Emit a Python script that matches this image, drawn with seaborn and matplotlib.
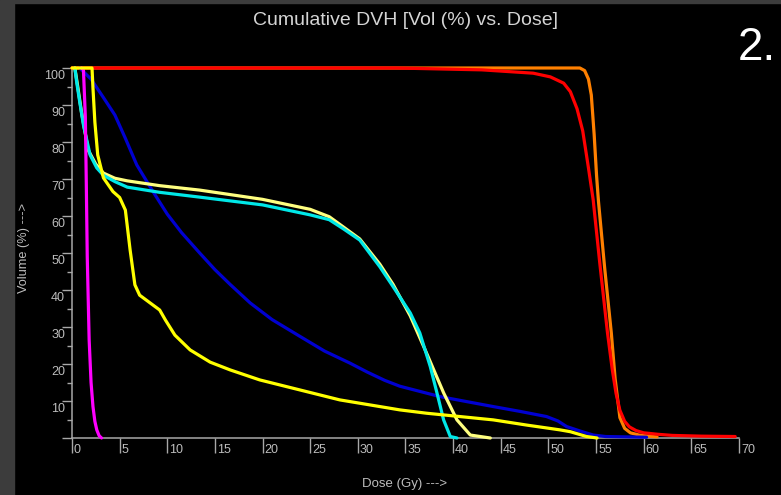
import pandas as pd
import seaborn as sns
import matplotlib.pyplot as plt
from matplotlib.patches import Rectangle

# DVH curves (dose in Gy, volume in %)
orange_dose = [0, 53.3, 53.8, 54.2, 54.5, 54.8, 55.05, 55.25, 55.9, 56.6, 57.0, 57.5, 58.0, 58.6, 59.5, 60.5, 61.4]
orange_vol = [100, 100, 99.3, 97, 92.7, 82, 71, 64, 46, 28.4, 16, 5.5, 2.6, 1.4, 0.8, 0.5, 0.3]

red_dose = [0, 34, 43, 48.4, 50.2, 51.6, 52.3, 53.0, 53.6, 54.2, 54.7, 55.4, 56.2, 56.7, 57.1, 57.5,
            58.0, 58.5, 59.2, 60.0, 61.5, 63, 66, 69.6]
red_vol = [100, 100, 99.5, 98.6, 97.6, 95.9, 93.6, 89, 83, 73, 64.3, 47, 28.4, 18.5, 12, 7.5,
           4.5, 3.0, 2.0, 1.4, 1.0, 0.7, 0.5, 0.4]

blue_dose = [0.8, 2.0, 3.3, 4.5, 5.6, 6.8, 8.5, 10.0, 11.5, 13.4, 15.0, 16.6, 18.7, 21, 23.9, 26.5,
             29.2, 31.0, 32.8, 34.4, 36.5, 38.6, 41.5, 44.2, 47, 49.8, 51, 51.9, 53.3, 54.7, 56, 60.3]
blue_vol = [100, 97, 92, 87.3, 81, 73.8, 66.6, 60.5, 55.5, 50, 45.5, 41.5, 36.5, 32, 27.5, 23.5,
            20.2, 17.8, 15.6, 14.0, 12.6, 11.2, 9.8, 8.5, 7.2, 5.8, 4.6, 3.1, 1.9, 0.8, 0.4, 0.2]

pale_dose = [0.3, 0.6, 1.0, 1.7, 2.5, 3.3, 4.5, 5.8, 9.2, 13.4, 20, 25, 27, 28.5, 30.2, 32.3,
             33.7, 35.5, 37.2, 39.0, 40.4, 41.8, 43.9]
pale_vol = [100, 95, 88, 77.8, 74, 71.6, 70.2, 69.5, 68.2, 67, 64.5, 61.8, 59.8, 57, 53.8, 47,
            41.5, 33, 23, 12.2, 4.9, 0.8, 0]

cyan_dose = [0.3, 0.5, 0.8, 1.2, 1.9, 2.6, 3.3, 4.5, 5.8, 9.2, 13.4, 20, 25, 27, 28.5, 30.2,
             32.3, 33.7, 35.5, 36.5, 37.6, 38.3, 39.0, 39.7, 40.4]
cyan_vol = [100, 96, 91, 84.6, 76.5, 73, 71, 69.3, 67.8, 66.4, 65.1, 63, 60.3, 59, 56.5, 53.5,
            46.3, 40.9, 33.8, 28.4, 19.3, 12.2, 4.9, 0.4, 0]

magenta_dose = [1.0, 1.2, 1.4, 1.5, 1.6, 1.8, 2.0, 2.2, 2.4, 2.6, 2.85, 3.1]
magenta_vol = [100, 99.5, 86.8, 68.9, 49, 26.5, 15, 8.5, 4.5, 2.2, 0.6, 0]

yellow_dose = [0, 2.1, 2.2, 2.4, 2.7, 3.3, 4.3, 5.0, 5.6, 6.1, 6.6, 7.1, 8.2, 9.2, 9.8, 10.8,
               12.4, 14.5, 16.6, 19.7, 23.9, 28.1, 30.2, 34.4, 37.2, 44.2, 47.7, 51.2, 52.3, 54.0, 55.1]
yellow_vol = [100, 100, 94.6, 85.4, 76.5, 70.3, 66.6, 65, 61.6, 50.8, 41.4, 38.6, 36.5, 34.6, 31.9, 27.8,
              23.8, 20.5, 18.4, 15.7, 13, 10.3, 9.4, 7.6, 6.7, 4.9, 3.5, 2.2, 1.7, 0.4, 0]

x_ticks = list(range(0, 75, 5))
x_tick_labels = [str(v) for v in x_ticks]
y_ticks = list(range(10, 110, 10))
y_tick_labels = [str(v) for v in y_ticks]

curves = {
    'Orange': (orange_dose, orange_vol, '#ff8000'),
    'Red': (red_dose, red_vol, '#ff0000'),
    'Blue': (blue_dose, blue_vol, '#0000d0'),
    'PaleYellow': (pale_dose, pale_vol, '#ffff80'),
    'Cyan': (cyan_dose, cyan_vol, '#00e8e8'),
    'Magenta': (magenta_dose, magenta_vol, '#ff00ff'),
    'Yellow': (yellow_dose, yellow_vol, '#ffff00'),
}

rows = []
for name, (d, v, c) in curves.items():
    for xd, yv in zip(d, v):
        rows.append({'structure': name, 'dose': xd, 'volume': yv})
df = pd.DataFrame(rows)
palette = {name: c for name, (d, v, c) in curves.items()}

sns.set_theme(style='dark', rc={'axes.facecolor': 'black', 'figure.facecolor': 'black'})
plt.rcParams['font.family'] = ['Liberation Sans', 'DejaVu Sans']

fig = plt.figure(figsize=(7.81, 4.95), dpi=100)
W, H = 781, 495
ax = fig.add_axes([72 / W, 1 - 438 / H, (739 - 72) / W, (438 - 68) / H])

sns.lineplot(data=df, x='dose', y='volume', hue='structure', hue_order=list(curves.keys()),
             palette=palette, estimator=None, sort=False, legend=False, linewidth=2.3, ax=ax)
for line in ax.lines:
    line.set_clip_on(False)

ax.set_xlim(0, 70)
ax.set_ylim(0, 100)
ax.grid(False)
for side in ['top', 'right']:
    ax.spines[side].set_visible(False)
for side in ['left', 'bottom']:
    ax.spines[side].set_color('#a8a8a8')
    ax.spines[side].set_linewidth(1.1)
    ax.spines[side].set_zorder(0)

axis_gray = '#a8a8a8'
label_gray = '#bdbdbd'
ax.set_xticks(x_ticks)
ax.set_yticks([0] + y_ticks)
ax.set_yticks(list(range(5, 100, 10)), minor=True)
ax.tick_params(axis='x', which='major', length=10.8, width=1, color=axis_gray, direction='out',
               bottom=True, labelbottom=False)
ax.tick_params(axis='y', which='major', length=7.2, width=1, color=axis_gray, direction='out',
               left=True, labelleft=False)
ax.tick_params(axis='y', which='minor', length=3.6, width=1, color=axis_gray, direction='out', left=True)
ax.set_xlabel('')
ax.set_ylabel('')

for v, lab in zip(x_ticks, x_tick_labels):
    ax.annotate(lab, xy=(v, 0), xytext=(2, -6), textcoords='offset pixels',
                ha='left', va='top', fontsize=9, color=label_gray, annotation_clip=False)
for v, lab in zip(y_ticks, y_tick_labels):
    ax.annotate(lab, xy=(0, v), xytext=(-7, -2), textcoords='offset pixels',
                ha='right', va='top', fontsize=9, color=label_gray, annotation_clip=False)

fig.text(405.5 / W, 1 - 25 / H, 'Cumulative DVH [Vol (%) vs. Dose]', ha='center', va='baseline',
         fontsize=14, color='#d4d4d4')
fig.text(738 / W, 1 - 60 / H, '2.', ha='left', va='baseline', fontsize=33, color='white')
fig.text(405 / W, 1 - 484 / H, 'Dose (Gy) --->', ha='center', va='center', fontsize=9.5, color=label_gray)
fig.text(24 / W, 1 - 248 / H, 'Volume (%) --->', ha='center', va='center', rotation=90,
         fontsize=9.2, color=label_gray)

fig.add_artist(Rectangle((0, 0), 14 / W, 1, transform=fig.transFigure, color='#3c3c3c', zorder=0))
fig.add_artist(Rectangle((0, 1 - 3 / H), 1, 3 / H, transform=fig.transFigure, color='#3c3c3c', zorder=0))

fig.savefig('out.png', dpi=100, facecolor='black')
